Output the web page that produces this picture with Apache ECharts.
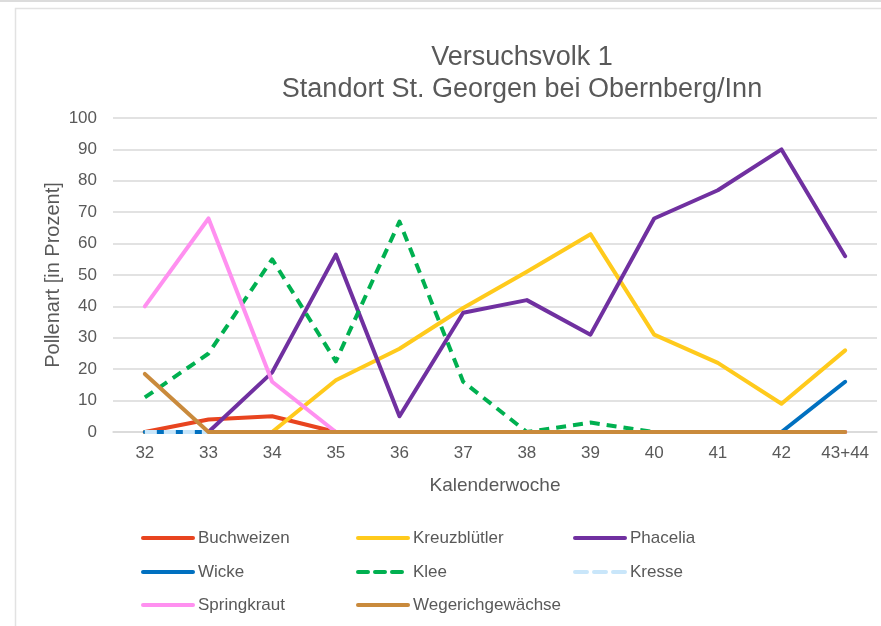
<!DOCTYPE html>
<html>
<head>
<meta charset="utf-8">
<script src="https://cdn.jsdelivr.net/npm/echarts@6/dist/echarts.min.js"></script>
<style>
  html, body { margin: 0; padding: 0; background: #ffffff; }
  #chart { width: 881px; height: 626px; }
</style>
</head>
<body>
<div id="chart"></div>
<script>
// ---- data ----
const weeks = ['32', '33', '34', '35', '36', '37', '38', '39', '40', '41', '42', '43+44'];
const yTicks = [0, 10, 20, 30, 40, 50, 60, 70, 80, 90, 100];

const buchweizen   = [0, 4, 5, 0, 0, 0, 0, 0, 0, 0, 0, 0];
const kreuzbluetler = [0, 0, 0, 16.5, 26.5, 39.5, 51, 63, 31, 22, 9, 26];
const phacelia     = [null, 0, 19, 56.5, 5, 38, 42, 31, 68, 77, 90, 56];
const wicke        = [0, 0, 0, 0, 0, 0, 0, 0, 0, 0, 0, 16];
const klee         = [11, 25, 55, 22.5, 67, 16, 0, 3, 0, 0, 0, 0];
const kresse       = [0, 0, 0, 0, 0, 0, 0, 0, 0, 0, 0, 0];
const springkraut  = [40, 68, 16, 0, 0, 0, 0, 0, 0, 0, 0, 0];
const wegerich     = [18.5, 0, 0, 0, 0, 0, 0, 0, 0, 0, 0, 0];

const seriesNames = ['Buchweizen', 'Kreuzblütler', 'Phacelia', 'Wicke', 'Klee', 'Kresse', 'Springkraut', 'Wegerichgewächse'];
const seriesData  = [buchweizen, kreuzbluetler, phacelia, wicke, klee, kresse, springkraut, wegerich];

const titleText = 'Versuchsvolk 1\nStandort St. Georgen bei Obernberg/Inn';
const xName = 'Kalenderwoche';
const yName = 'Pollenart [in Prozent]';

// ---- styles ----
const colors = ['#E8441F', '#FFCA1C', '#7030A0', '#0070C0', '#00B050', '#C9E6FA', '#FF90F0', '#C98A3C'];
const dashes = [null, null, null, null, [10, 7], [12, 7], null, null];
const FONT = 'Liberation Sans, Arial, sans-serif';
const TXT = '#595959';
const GRIDC = '#D9D9D9';

const colX = [141, 356, 573];
const rowY = [538, 572, 605];

const chart = echarts.init(document.getElementById('chart'), null, { renderer: 'canvas' });

const series = seriesNames.map((name, i) => ({
  name: name,
  type: 'line',
  data: seriesData[i],
  symbol: 'none',
  showSymbol: false,
  connectNulls: false,
  animation: false,
  z: 2 + i,
  lineStyle: {
    color: colors[i],
    width: 4,
    type: dashes[i] ? dashes[i] : 'solid',
    cap: dashes[i] ? 'butt' : 'round',
    join: 'round'
  },
  itemStyle: { color: colors[i] }
}));

const legends = seriesNames.map((name, i) => ({
  data: [name],
  left: colX[i % 3],
  top: rowY[Math.floor(i / 3)] - 9,
  orient: 'horizontal',
  itemWidth: 50,
  itemHeight: 14,
  itemGap: 6,
  padding: 0,
  selectedMode: false,
  itemStyle: { opacity: 0, borderWidth: 0 },
  lineStyle: { width: 4, cap: 'round' },
  textStyle: { color: TXT, fontSize: 17, fontFamily: FONT, lineHeight: 18, padding: [0, 0, 0, 0] }
}));

const option = {
  animation: false,
  backgroundColor: '#ffffff',
  textStyle: { fontFamily: FONT },
  color: colors,
  title: {
    text: titleText,
    left: 522,
    top: 42,
    textAlign: 'center',
    padding: 0,
    textStyle: { color: TXT, fontSize: 27, fontWeight: 'normal', fontFamily: FONT, lineHeight: 32 }
  },
  graphic: [
    { type: 'line', shape: { x1: 0, y1: 1, x2: 881, y2: 1 }, style: { stroke: '#DCDCDC', lineWidth: 2 }, silent: true },
    { type: 'rect', shape: { x: 15.5, y: 8.5, width: 900, height: 700 }, style: { fill: 'none', stroke: '#E2E2E2', lineWidth: 1.5 }, silent: true }
  ],
  legend: legends,
  grid: { left: 113, right: 4, top: 118, bottom: 194, containLabel: false },
  xAxis: {
    type: 'category',
    data: weeks,
    boundaryGap: true,
    name: xName,
    nameLocation: 'middle',
    nameGap: 44,
    nameMoveOverlap: false,
    nameTextStyle: { color: TXT, fontSize: 19, fontFamily: FONT },
    axisLine: { show: true, lineStyle: { color: GRIDC, width: 1.5 } },
    axisTick: { show: false },
    axisLabel: { color: TXT, fontSize: 17, fontFamily: FONT, margin: 13 },
    splitLine: { show: false }
  },
  yAxis: {
    type: 'value',
    min: yTicks[0],
    max: yTicks[yTicks.length - 1],
    interval: yTicks[1] - yTicks[0],
    name: yName,
    nameLocation: 'middle',
    nameRotate: 90,
    nameGap: 50,
    nameMoveOverlap: false,
    nameTextStyle: { color: TXT, fontSize: 20, fontFamily: FONT },
    axisLine: { show: false },
    axisTick: { show: false },
    axisLabel: { color: TXT, fontSize: 17, fontFamily: FONT, margin: 16 },
    splitLine: { show: true, lineStyle: { color: GRIDC, width: 1.5 } }
  },
  series: series
};

chart.setOption(option);
</script>
</body>
</html>
